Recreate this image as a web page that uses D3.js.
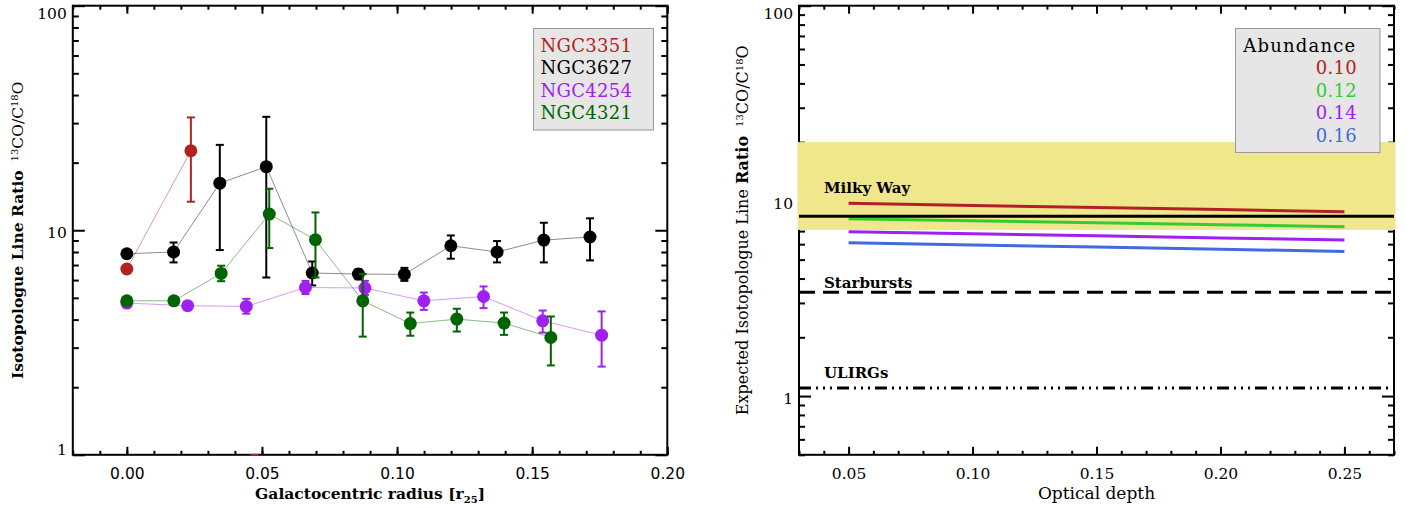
<!DOCTYPE html>
<html><head><meta charset="utf-8">
<script src="https://cdn.jsdelivr.net/npm/d3@7"></script>
<style>
body{margin:0;background:#fff;}
svg{display:block;}
</style></head><body>
<svg id="c" width="1414" height="508"></svg>
<script>
// ---------------- Left panel data ----------------
const galaxies = ["NGC3351", "NGC3627", "NGC4254", "NGC4321"];
const galaxyColors = ["#b22222", "#000000", "#a020f0", "#006400"];

const ngc3351R  = [0.000, 0.0237, 0.0472];
const ngc3351V  = [6.72, 22.6, null];
const ngc3351Lo = [6.55, 13.4, null];
const ngc3351Hi = [6.90, 31.8, 1.0];

const ngc3627R  = [0.000, 0.0173, 0.0344, 0.0516, 0.0686, 0.0857, 0.1027, 0.1199, 0.1370, 0.1543, 0.1714];
const ngc3627V  = [7.86, 8.00, 16.2, 19.2, 6.45, 6.38, 6.36, 8.53, 8.00, 9.04, 9.33];
const ngc3627Lo = [7.60, 7.19, 8.16, 6.16, 5.68, 6.05, 5.95, 7.47, 7.19, 7.19, 7.34];
const ngc3627Hi = [8.10, 8.82, 24.0, 32.0, 7.26, 6.70, 6.80, 9.48, 8.95, 10.8, 11.3];

const ngc4254R  = [0.000, 0.0225, 0.0442, 0.0661, 0.0881, 0.1099, 0.1320, 0.1539, 0.1757];
const ngc4254V  = [4.74, 4.61, 4.58, 5.56, 5.53, 4.85, 5.07, 3.95, 3.41];
const ngc4254Lo = [4.55, 4.45, 4.25, 5.20, 5.15, 4.42, 4.50, 3.50, 2.47];
const ngc4254Hi = [4.95, 4.80, 4.95, 5.95, 5.95, 5.28, 5.62, 4.39, 4.35];

const ngc4321R  = [0.000, 0.0174, 0.0349, 0.0527, 0.0698, 0.0873, 0.1049, 0.1221, 0.1396, 0.1569];
const ngc4321V  = [4.85, 4.85, 6.42, 11.8, 9.07, 4.85, 3.84, 4.02, 3.86, 3.33];
const ngc4321Lo = [4.70, 4.70, 5.93, 8.33, 6.16, 3.36, 3.39, 3.54, 3.42, 2.50];
const ngc4321Hi = [5.00, 5.00, 6.95, 15.3, 12.0, 6.38, 4.30, 4.47, 4.30, 4.13];

const leftXTicksMajor = [0.00, 0.05, 0.10, 0.15, 0.20];
const leftYTicksMajor = [1, 10, 100];

// ---------------- Right panel data ----------------
const tau = [0.05, 0.10, 0.15, 0.20, 0.25];
const abundances = ["0.10", "0.12", "0.14", "0.16"];
const abundanceColors = ["#b22222", "#32cd32", "#a020f0", "#4169e1"];
const ratioAb010 = [9.71, 9.48, 9.25, 9.02, 8.79];
const ratioAb012 = [8.09, 7.90, 7.72, 7.54, 7.37];
const ratioAb014 = [6.94, 6.78, 6.62, 6.46, 6.30];
const ratioAb016 = [6.10, 5.95, 5.80, 5.65, 5.51];
const milkyWayBand = [7.1, 20];
const milkyWayRatio = 8.35;
const starburstRatio = 3.4;
const ulirgRatio = 1.1;
const rightXTicksMajor = [0.05, 0.10, 0.15, 0.20, 0.25];
const rightYTicksMajor = [1, 10, 100];

// ---------------- Helpers ----------------
const svg = d3.select("#c");
const SERIF = "DejaVu Serif";
const SANS = "DejaVu Sans";
const FS = 15.5;

function range(a, b, step) { const out = []; for (let v = a; v <= b + step / 10; v += step) out.push(+v.toFixed(4)); return out; }
function logMinors(lo, hi) {
  const out = [];
  for (let d = Math.floor(Math.log10(lo)); d < Math.ceil(Math.log10(hi)); d++) {
    for (let m = 2; m <= 9; m++) { const v = m * Math.pow(10, d); if (v >= lo - 1e-9 && v <= hi + 1e-9) out.push(v); }
  }
  return out;
}

function frame(g, x, y, xMinor, xMajor, yMinor, yMajor) {
  const [x0, x1] = x.range(), [y0, y1] = y.range(); // y0 bottom, y1 top
  const style = s => s.call(a => a.select(".domain").remove())
    .selectAll("line").attr("stroke", "#000").attr("stroke-width", 2);
  g.append("g").attr("transform", `translate(0,${y0})`).call(d3.axisBottom(x).tickValues(xMinor).tickSize(-4).tickFormat("")).call(style);
  g.append("g").attr("transform", `translate(0,${y0})`).call(d3.axisBottom(x).tickValues(xMajor).tickSize(-8).tickFormat("")).call(style);
  g.append("g").attr("transform", `translate(0,${y1})`).call(d3.axisTop(x).tickValues(xMinor).tickSize(-4).tickFormat("")).call(style);
  g.append("g").attr("transform", `translate(0,${y1})`).call(d3.axisTop(x).tickValues(xMajor).tickSize(-8).tickFormat("")).call(style);
  g.append("g").attr("transform", `translate(${x0},0)`).call(d3.axisLeft(y).tickValues(yMinor).tickSize(-6).tickFormat("")).call(style);
  g.append("g").attr("transform", `translate(${x0},0)`).call(d3.axisLeft(y).tickValues(yMajor).tickSize(-12).tickFormat("")).call(style);
  g.append("g").attr("transform", `translate(${x1},0)`).call(d3.axisRight(y).tickValues(yMinor).tickSize(-6).tickFormat("")).call(style);
  g.append("g").attr("transform", `translate(${x1},0)`).call(d3.axisRight(y).tickValues(yMajor).tickSize(-12).tickFormat("")).call(style);
  g.append("rect").attr("x", x0).attr("y", y1).attr("width", x1 - x0).attr("height", y0 - y1)
    .attr("fill", "none").attr("stroke", "#000").attr("stroke-width", 2);
}

function labels(g, x, y, xLabels, yLabels, xFont) {
  const [x0] = x.range(), [y0, y1] = y.range();
  const gx = g.append("g").attr("transform", `translate(0,${y0})`)
    .call(d3.axisBottom(x).tickValues(xLabels).tickSize(0).tickPadding(0).tickFormat(d3.format(".2f")));
  gx.select(".domain").remove();
  gx.selectAll("text").attr("y", 24.2).attr("dy", null)
    .attr("font-family", xFont).attr("font-size", FS).attr("fill", "#000");
  const gy = g.append("g").attr("transform", `translate(${x0},0)`)
    .call(d3.axisLeft(y).tickValues(yLabels).tickSize(0).tickPadding(6).tickFormat(d3.format("d")));
  gy.select(".domain").remove();
  gy.selectAll("text").attr("dy", null)
    .attr("y", d => { const p = y(d); return Math.min(Math.max(7.6, y1 + 13 - p), y0 - p); })
    .attr("font-family", SERIF).attr("font-size", FS).attr("fill", "#000");
}

function ratioLabel(t, boldPart, normalPart) {
  if (normalPart) t.append("tspan").text(normalPart);
  t.append("tspan").attr("font-weight", "bold").text(boldPart);
  t.append("tspan").attr("dx", 9).attr("dy", -5).attr("font-size", 10).text("13");
  t.append("tspan").attr("dy", 5).text("CO/C");
  t.append("tspan").attr("dy", -5).attr("font-size", 10).text("18");
  t.append("tspan").attr("dy", 5).text("O");
}

// ---------------- Left panel ----------------
const xL = d3.scaleLinear([-0.02, 0.20], [72.8, 667.3]);
const yL = d3.scaleLog([1, 100], [454.8, 5.7]);
const gL = svg.append("g");
frame(gL, xL, yL, range(-0.02, 0.20, 0.01), leftXTicksMajor, logMinors(1, 100), leftYTicksMajor);
labels(gL, xL, yL, leftXTicksMajor, leftYTicksMajor, SANS);

const series = [
  {r: ngc3351R, v: ngc3351V, lo: ngc3351Lo, hi: ngc3351Hi},
  {r: ngc3627R, v: ngc3627V, lo: ngc3627Lo, hi: ngc3627Hi},
  {r: ngc4254R, v: ngc4254V, lo: ngc4254Lo, hi: ngc4254Hi},
  {r: ngc4321R, v: ngc4321V, lo: ngc4321Lo, hi: ngc4321Hi}
];
const yMinL = yL.domain()[0], yMaxL = yL.domain()[1];
const lineL = d3.line().defined(d => d.v != null && d.v > 0).x(d => xL(d.r)).y(d => yL(d.v));

series.forEach((s, i) => {
  const pts = s.r.map((r, j) => ({r, v: s.v[j], lo: s.lo[j], hi: s.hi[j]}));
  const col = galaxyColors[i];
  const g = gL.append("g");
  g.append("path").datum(pts).attr("d", lineL).attr("fill", "none")
    .attr("stroke", col).attr("stroke-opacity", 0.45).attr("stroke-width", 1);
  pts.forEach(p => {
    const top = p.hi != null ? Math.min(p.hi, yMaxL) : (p.v || yMinL);
    const bot = p.lo != null ? Math.max(p.lo, yMinL) : yMinL;
    const cx = xL(p.r);
    g.append("line").attr("x1", cx).attr("x2", cx).attr("y1", yL(bot)).attr("y2", yL(top))
      .attr("stroke", col).attr("stroke-width", 2);
    if (p.hi != null && p.hi <= yMaxL && p.hi >= yMinL)
      g.append("line").attr("x1", cx - 4).attr("x2", cx + 4).attr("y1", yL(p.hi)).attr("y2", yL(p.hi)).attr("stroke", col).attr("stroke-width", 2);
    if (p.lo != null && p.lo >= yMinL)
      g.append("line").attr("x1", cx - 4).attr("x2", cx + 4).attr("y1", yL(p.lo)).attr("y2", yL(p.lo)).attr("stroke", col).attr("stroke-width", 2);
  });
  g.selectAll("circle").data(pts.filter(p => p.v != null && p.v > 0)).join("circle")
    .attr("cx", p => xL(p.r)).attr("cy", p => yL(p.v)).attr("r", 6.5).attr("fill", col);
});

// left legend
gL.append("rect").attr("x", 533.5).attr("y", 28.5).attr("width", 120).attr("height", 101.5)
  .attr("fill", "#e6e6e6").attr("stroke", "#999").attr("stroke-width", 1);
galaxies.forEach((name, i) => {
  gL.append("text").attr("x", 540.5).attr("y", 52 + i * 22.3).attr("font-family", SERIF)
    .attr("font-size", 18).attr("letter-spacing", 0.3).attr("fill", galaxyColors[i]).text(name);
});

// left titles
const txL = gL.append("text").attr("x", (xL.range()[0] + xL.range()[1]) / 2).attr("y", 499)
  .attr("text-anchor", "middle").attr("font-family", SERIF).attr("font-size", FS).attr("font-weight", "bold");
txL.append("tspan").text("Galactocentric radius [r");
txL.append("tspan").attr("dy", 4).attr("font-size", 10).text("25");
txL.append("tspan").attr("dy", -4).text("]");
const tyL = gL.append("text").attr("transform", `translate(22.7,${(yL.range()[0] + yL.range()[1]) / 2}) rotate(-90)`)
  .attr("text-anchor", "middle").attr("font-family", SERIF).attr("font-size", FS);
ratioLabel(tyL, "Isotopologue Line Ratio", null);

// ---------------- Right panel ----------------
const xR = d3.scaleLinear([0.03, 0.27], [799, 1394]);
const yR = d3.scaleLog([0.5, 100], [454.8, 5.7]);
const gR = svg.append("g");
frame(gR, xR, yR, range(0.03, 0.27, 0.01), rightXTicksMajor, logMinors(0.5, 100), rightYTicksMajor);
labels(gR, xR, yR, rightXTicksMajor, rightYTicksMajor, SERIF);

// Milky Way band
gR.append("rect").attr("x", xR.range()[0] - 1.5).attr("width", xR.range()[1] - xR.range()[0] + 3)
  .attr("y", yR(milkyWayBand[1])).attr("height", yR(milkyWayBand[0]) - yR(milkyWayBand[1]))
  .attr("fill", "#f0e68c");

const models = [ratioAb010, ratioAb012, ratioAb014, ratioAb016];
const lineR = d3.line().x(d => xR(d[0])).y(d => yR(d[1]));
models.forEach((m, i) => {
  gR.append("path").datum(tau.map((t, j) => [t, m[j]])).attr("d", lineR)
    .attr("fill", "none").attr("stroke", abundanceColors[i]).attr("stroke-width", 3);
});

const xDom = xR.domain();
function hline(v, dash) {
  gR.append("path").datum([[xDom[0], v], [xDom[1], v]]).attr("d", lineR)
    .attr("fill", "none").attr("stroke", "#000").attr("stroke-width", 3)
    .attr("stroke-dasharray", dash);
}
hline(milkyWayRatio, null);
hline(starburstRatio, "16,8");
hline(ulirgRatio, "12,5,2,5,2,5,2,5");

const refLabels = [["Milky Way", 193.3], ["Starbursts", 287.7], ["ULIRGs", 378.3]];
refLabels.forEach(([t, yy]) => {
  gR.append("text").attr("x", 824).attr("y", yy).attr("font-family", SERIF).attr("font-size", 15)
    .attr("font-weight", "bold").text(t);
});

// right legend
gR.append("rect").attr("x", 1235.5).attr("y", 28.5).attr("width", 144.5).attr("height", 124)
  .attr("fill", "#e6e6e6").attr("stroke", "#999").attr("stroke-width", 1);
gR.append("text").attr("x", 1243.3).attr("y", 51.7).attr("font-family", SERIF).attr("font-size", 18)
  .attr("letter-spacing", 1.2).text("Abundance");
abundances.forEach((a, i) => {
  gR.append("text").attr("x", 1357).attr("y", 74 + i * 22.5).attr("text-anchor", "end")
    .attr("font-family", SERIF).attr("font-size", 18).attr("letter-spacing", 0.3)
    .attr("fill", abundanceColors[i]).text(a);
});

// right titles
gR.append("text").attr("x", (xR.range()[0] + xR.range()[1]) / 2).attr("y", 499)
  .attr("text-anchor", "middle").attr("font-family", SERIF).attr("font-size", 17).text("Optical depth");
const tyR = gR.append("text").attr("transform", `translate(748,${(yR.range()[0] + yR.range()[1]) / 2}) rotate(-90)`)
  .attr("text-anchor", "middle").attr("font-family", SERIF).attr("font-size", 16);
ratioLabel(tyR, "Ratio", "Expected Isotopologue Line ");
</script>
</body></html>
